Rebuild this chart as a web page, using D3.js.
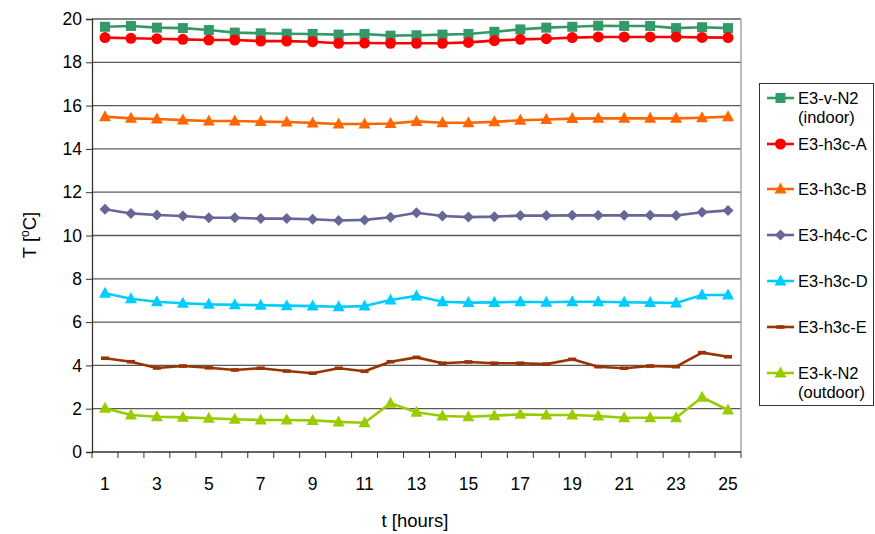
<!DOCTYPE html>
<html><head><meta charset="utf-8">
<script src="https://cdn.jsdelivr.net/npm/d3@7"></script>
<style>body{margin:0;background:#fff}svg{font-family:"Liberation Sans",Arial,sans-serif}</style>
</head><body><svg id="c" width="875" height="534"></svg>
<script>
const hours = d3.range(1, 26);
const xTickLabels = [1,3,5,7,9,11,13,15,17,19,21,23,25];
const yTicks = [0,2,4,6,8,10,12,14,16,18,20];
const seriesNames = ["E3-v-N2|(indoor)","E3-h3c-A","E3-h3c-B","E3-h4c-C","E3-h3c-D","E3-h3c-E","E3-k-N2|(outdoor)"];
const seriesColors = ["#339966","#ff0000","#ff6600","#666699","#00ccff","#993300","#99cc00"];
const seriesMarkers = ["square","circle","triangle","diamond","triangle","dash","triangle"];
const vN2 = [19.64,19.68,19.6,19.58,19.49,19.37,19.34,19.32,19.31,19.28,19.31,19.23,19.25,19.28,19.31,19.41,19.52,19.6,19.64,19.69,19.68,19.68,19.58,19.62,19.58];
const h3cA = [19.14,19.11,19.09,19.06,19.03,19.03,18.98,18.98,18.95,18.88,18.89,18.88,18.88,18.88,18.92,19.0,19.06,19.09,19.14,19.17,19.17,19.17,19.17,19.15,19.14];
const h3cB = [15.49,15.41,15.38,15.33,15.29,15.29,15.26,15.24,15.2,15.15,15.15,15.17,15.27,15.21,15.21,15.25,15.32,15.36,15.4,15.41,15.41,15.41,15.41,15.44,15.49];
const h4cC = [11.21,11.02,10.95,10.9,10.82,10.82,10.78,10.78,10.75,10.69,10.72,10.84,11.05,10.9,10.85,10.87,10.92,10.92,10.93,10.93,10.93,10.93,10.92,11.07,11.16];
const h3cD = [7.33,7.08,6.94,6.87,6.82,6.8,6.78,6.76,6.74,6.71,6.74,7.02,7.21,6.94,6.9,6.91,6.94,6.92,6.94,6.94,6.92,6.9,6.88,7.25,7.25];
const h3cE = [4.33,4.17,3.88,3.97,3.89,3.79,3.87,3.74,3.64,3.87,3.73,4.17,4.37,4.1,4.16,4.1,4.1,4.06,4.28,3.94,3.87,3.97,3.94,4.59,4.4];
const kN2 = [2.02,1.71,1.63,1.6,1.56,1.51,1.48,1.48,1.46,1.39,1.35,2.25,1.84,1.66,1.63,1.68,1.74,1.71,1.71,1.66,1.58,1.58,1.58,2.53,1.94];
const allSeries = [vN2,h3cA,h3cB,h4cC,h3cD,h3cE,kN2];

const svg = d3.select("#c");
const L = 92, R = 741, T = 19, B = 452;
const x = d3.scaleBand().domain(hours).range([L, R]);
const y = d3.scaleLinear().domain([0, 20]).range([B, T]);
const cx = h => x(h) + x.bandwidth()/2;

// gridlines
svg.append("g").selectAll("line").data(yTicks.filter(v=>v>0)).join("line")
  .attr("x1", L).attr("x2", R).attr("y1", d=>y(d)).attr("y2", d=>y(d))
  .attr("stroke", "#5a5a5a").attr("stroke-width", 1.3);
// right border
svg.append("line").attr("x1", R).attr("x2", R).attr("y1", T).attr("y2", B).attr("stroke", "#999").attr("stroke-width", 1.3);

// y axis
const ya = svg.append("g").attr("transform", `translate(${L},0)`)
  .call(d3.axisLeft(y).tickValues(yTicks).tickSize(6).tickPadding(4).tickFormat(d3.format("d")));
ya.select(".domain").attr("stroke", "#333").attr("stroke-width", 1.3);
ya.selectAll(".tick line").attr("stroke", "#333");
ya.selectAll("text").attr("font-size", 17.5).attr("fill", "#000").attr("font-family", "Liberation Sans, Arial, sans-serif");

// x axis: ticks at category boundaries
const xa = svg.append("g").attr("transform", `translate(0,${B})`);
xa.append("line").attr("x1", L).attr("x2", R).attr("stroke", "#333").attr("stroke-width", 1.3);
const bounds = hours.map(h => x(h)).concat([R]);
xa.selectAll("line.t").data(bounds).join("line").attr("class","t")
  .attr("x1", d=>d).attr("x2", d=>d).attr("y1", 0).attr("y2", 6).attr("stroke", "#333");
xa.selectAll("text").data(xTickLabels).join("text")
  .attr("x", d=>cx(d)).attr("y", 38).attr("text-anchor", "middle")
  .attr("font-size", 17.5).text(d=>d);

// axis titles
svg.append("text").attr("x", 415).attr("y", 527).attr("text-anchor", "middle").attr("font-size", 18.5).text("t [hours]");
const yt = svg.append("text").attr("transform", "translate(36,235) rotate(-90)").attr("text-anchor", "middle").attr("font-size", 18.5);
yt.append("tspan").text("T [");
yt.append("tspan").attr("font-size", 12).attr("dy", -7).text("o");
yt.append("tspan").attr("dy", 7).text("C]");

function marker(g, type, color, px, py) {
  if (type === "square") g.append("rect").attr("x", px-5).attr("y", py-5).attr("width", 10).attr("height", 10).attr("fill", color);
  else if (type === "circle") g.append("circle").attr("cx", px).attr("cy", py).attr("r", 5.5).attr("fill", color);
  else if (type === "triangle") g.append("path").attr("d", `M${px},${py-6.5}L${px+6},${py+4.5}L${px-6},${py+4.5}Z`).attr("fill", color);
  else if (type === "diamond") g.append("path").attr("d", `M${px},${py-5.5}L${px+5.5},${py}L${px},${py+5.5}L${px-5.5},${py}Z`).attr("fill", color);
  else if (type === "dash") g.append("rect").attr("x", px-4).attr("y", py-1.8).attr("width", 8).attr("height", 3.6).attr("fill", color);
}

const line = d3.line().x((d,i)=>cx(hours[i])).y(d=>y(d));
allSeries.forEach((s, k) => {
  const g = svg.append("g");
  g.append("path").attr("d", line(s)).attr("fill", "none").attr("stroke", seriesColors[k]).attr("stroke-width", 2.6).attr("stroke-linejoin", "round");
  s.forEach((v, i) => marker(g, seriesMarkers[k], seriesColors[k], cx(hours[i]), y(v)));
});

// legend
const lg = svg.append("g");
lg.append("rect").attr("x", 759.5).attr("y", 83.5).attr("width", 114).attr("height", 322).attr("fill", "#fff").attr("stroke", "#333").attr("stroke-width", 1);
const legY = [98, 144, 189, 235, 281, 327, 373];
seriesNames.forEach((n, k) => {
  const ly = legY[k];
  lg.append("line").attr("x1", 767).attr("x2", 794).attr("y1", ly).attr("y2", ly).attr("stroke", seriesColors[k]).attr("stroke-width", 2.6);
  marker(lg, seriesMarkers[k], seriesColors[k], 780.5, ly);
  const parts = n.split("|");
  parts.forEach((p, j) => lg.append("text").attr("x", 798).attr("y", ly + 6 + j*19).attr("font-size", 16.5).text(p));
});
</script></body></html>
